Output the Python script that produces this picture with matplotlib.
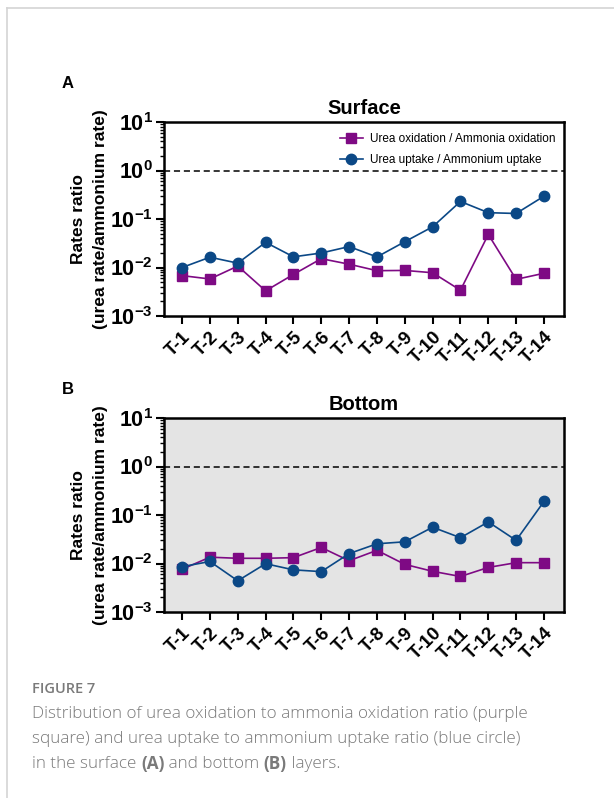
import matplotlib
matplotlib.use("Agg")
import matplotlib.pyplot as plt
import matplotlib.ticker as mticker
from matplotlib.lines import Line2D
import numpy as np

plt.rcParams['font.family'] = ['Liberation Sans', 'DejaVu Sans']
plt.rcParams['mathtext.fontset'] = 'custom'
plt.rcParams['mathtext.rm'] = 'Liberation Sans:bold'
plt.rcParams['mathtext.bf'] = 'Liberation Sans:bold'

# Stations
stations = [f"T-{i}" for i in range(1, 15)]

# Surface layer ratios
surf_oxidation = [0.0068, 0.0058, 0.0107, 0.0033, 0.0072, 0.0152, 0.0117,
                  0.0086, 0.0087, 0.0078, 0.0034, 0.048, 0.0057, 0.0076]
surf_uptake = [0.0100, 0.0163, 0.0123, 0.033, 0.0166, 0.0199, 0.027,
               0.0165, 0.034, 0.069, 0.23, 0.135, 0.13, 0.295]

# Bottom layer ratios
bot_oxidation = [0.0076, 0.0135, 0.0128, 0.0128, 0.0132, 0.0214, 0.0114,
                 0.0187, 0.0096, 0.0069, 0.0054, 0.0083, 0.0104, 0.0104]
bot_uptake = [0.0086, 0.0110, 0.0044, 0.0099, 0.0074, 0.0068, 0.016,
              0.0255, 0.028, 0.056, 0.034, 0.072, 0.030, 0.19]

PURPLE = "#7E0A84"
BLUE = "#0B4886"
W, H = 614, 798
DPI = 100

fig = plt.figure(figsize=(W / DPI, H / DPI), dpi=DPI)
fig.patch.set_facecolor("white")

# Page frame lines
fig.add_artist(Line2D([7 / W, 7 / W], [0, 1 - 7.5 / H], transform=fig.transFigure,
                      color="#d4d4d4", lw=1.2))
fig.add_artist(Line2D([7 / W, 1], [1 - 7.5 / H, 1 - 7.5 / H], transform=fig.transFigure,
                      color="#d4d4d4", lw=1.2))


def make_axes(left, top, right, bottom):
    return fig.add_axes([left / W, 1 - bottom / H, (right - left) / W, (bottom - top) / H])


def decade_fmt(v, pos):
    e = int(round(np.log10(v)))
    return r"$\mathbf{10^{%d}}$" % e


def style_panel(ax, title, facecolor):
    x = np.arange(1, len(stations) + 1)
    ax.set_facecolor(facecolor)
    ax.set_yscale("log")
    ax.set_ylim(1e-3, 1e1)
    ax.set_xlim(0.35, 14.72)
    ax.axhline(1.0, color="black", lw=1.1, ls=(0, (4, 2.5)), zorder=1)
    ax.set_xticks(x)
    ax.set_xticklabels(stations, rotation=45, ha="right", va="top",
                       rotation_mode="anchor", fontsize=13.5, fontweight="bold")
    ax.yaxis.set_major_locator(mticker.LogLocator(base=10, numticks=10))
    ax.yaxis.set_minor_locator(mticker.LogLocator(base=10, subs=np.arange(2, 10), numticks=20))
    ax.yaxis.set_major_formatter(mticker.FuncFormatter(decade_fmt))
    ax.yaxis.set_minor_formatter(mticker.NullFormatter())
    ax.tick_params(axis="y", which="major", labelsize=15.5, length=6, width=1.5, pad=2)
    ax.tick_params(axis="y", which="minor", length=3, width=1.0)
    ax.tick_params(axis="x", which="major", length=6, width=1.5, pad=3)
    for s in ax.spines.values():
        s.set_linewidth(1.8)
    ax.set_title(title, fontsize=14.5, fontweight="bold", pad=6)
    ax.set_ylabel("Rates ratio\n(urea rate/ammonium rate)", fontsize=12.5,
                  fontweight="bold", linespacing=1.55)
    ax.yaxis.set_label_coords(-0.14, 0.5)
    return x


axA = make_axes(164, 122, 564, 316)
x = style_panel(axA, "Surface", "white")
axA.plot(x, surf_oxidation, color=PURPLE, marker="s", ms=7.5, lw=1.2,
         label="Urea oxidation / Ammonia oxidation", zorder=3)
axA.plot(x, surf_uptake, color=BLUE, marker="o", ms=7.5, lw=1.2,
         label="Urea uptake / Ammonium uptake", zorder=3)
axA.legend(loc="upper right", frameon=False, fontsize=8.5, handlelength=2.0,
           handletextpad=0.6, borderaxespad=0.3, labelspacing=0.75,
           bbox_to_anchor=(1.0, 0.985))

axB = make_axes(164, 418, 564, 612)
x = style_panel(axB, "Bottom", "#e4e4e4")
axB.plot(x, bot_oxidation, color=PURPLE, marker="s", ms=7.5, lw=1.2, zorder=3)
axB.plot(x, bot_uptake, color=BLUE, marker="o", ms=7.5, lw=1.2, zorder=3)

fig.text(62 / W, 1 - 83 / H, "A", fontsize=12, fontweight="bold", va="center")
fig.text(62 / W, 1 - 389 / H, "B", fontsize=12, fontweight="bold", va="center")

# Caption
CAP = "#7a7a7a"
cap_font = ["Open Sans", "DejaVu Sans"]
fig.text(32 / W, 1 - 689 / H, "FIGURE 7", fontsize=10.5, color=CAP, family=cap_font,
         va="center", fontweight="semibold")
lines = ["Distribution of urea oxidation to ammonia oxidation ratio (purple",
         "square) and urea uptake to ammonium uptake ratio (blue circle)"]
for i, ln in enumerate(lines):
    fig.text(32 / W, 1 - (714 + 25 * i) / H, ln, fontsize=12.3, color=CAP,
             family=cap_font, va="center", fontweight="light")

fig.canvas.draw()
renderer = fig.canvas.get_renderer()
xpos = 32.0
pieces = [("in the surface ", "light"), ("(A)", "bold"), (" and bottom ", "light"),
          ("(B)", "bold"), (" layers.", "light")]
for txt, wt in pieces:
    t = fig.text(xpos / W, 1 - 764 / H, txt, fontsize=12.3, color=CAP, family=cap_font,
                 va="center", fontweight=wt)
    bb = t.get_window_extent(renderer)
    xpos += bb.width

fig.savefig("out.png", dpi=DPI)
